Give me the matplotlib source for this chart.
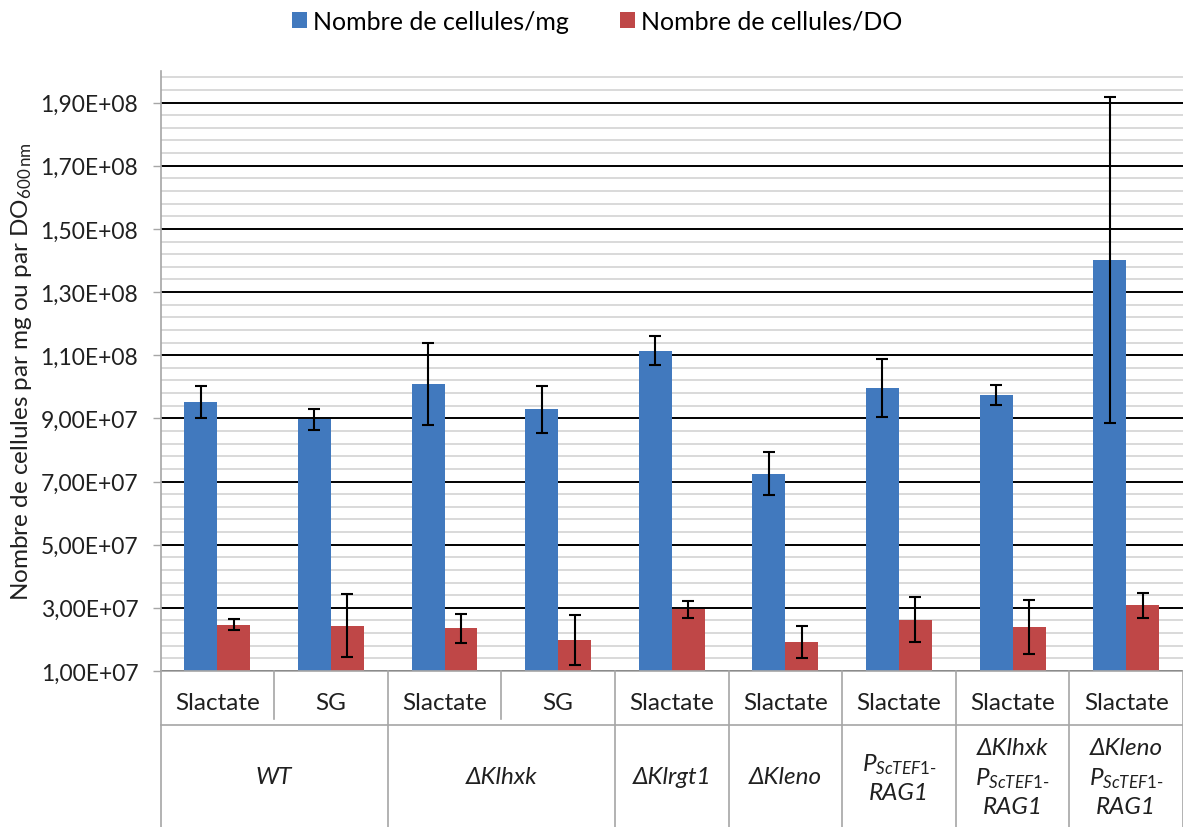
import numpy as np
import matplotlib
matplotlib.use("Agg")
import matplotlib.pyplot as plt
from matplotlib.patches import Patch
from matplotlib.ticker import FixedLocator, FuncFormatter
from matplotlib.transforms import blended_transform_factory

plt.rcParams['font.family'] = ['Lato', 'DejaVu Sans']
plt.rcParams['mathtext.fontset'] = 'custom'
plt.rcParams['mathtext.rm'] = 'Lato'
plt.rcParams['mathtext.it'] = 'Lato:italic'

# data
media = ['Slactate', 'SG', 'Slactate', 'SG', 'Slactate', 'Slactate', 'Slactate', 'Slactate', 'Slactate']
strains = ['WT', 'ΔKlhxk', 'ΔKlrgt1', 'ΔKleno',
           '$P_{ScTEF1\\text{-}}$\nRAG1',
           'ΔKlhxk\n$P_{ScTEF1\\text{-}}$\nRAG1',
           'ΔKleno\n$P_{ScTEF1\\text{-}}$\nRAG1']
strain_span = [2, 2, 1, 1, 1, 1, 1]
per_mg = [9.51e7, 8.97e7, 1.009e8, 9.29e7, 1.114e8, 7.24e7, 9.95e7, 9.74e7, 1.401e8]
per_mg_err = [5.1e6, 3.4e6, 1.3e7, 7.5e6, 4.6e6, 6.8e6, 9.2e6, 3.2e6, 5.17e7]
per_do = [2.47e7, 2.43e7, 2.35e7, 1.98e7, 2.95e7, 1.92e7, 2.63e7, 2.39e7, 3.08e7]
per_do_err = [1.65e6, 1.0e7, 4.5e6, 7.9e6, 2.8e6, 5.2e6, 7.2e6, 8.6e6, 4.0e6]

blue = '#4179BE'
red = '#BF4747'
line_gray = '#a6a6a6'
fs = 16.5      # tick numbers
fs_txt = 17.5  # words

W, H = 1183, 828
fig = plt.figure(figsize=(W / 100, H / 100), dpi=100)
ax = fig.add_axes([160.5 / W, (H - 672) / H, 1 - 160.5 / W, 600 / H])

x = np.arange(len(media))
bw = 0.29
ax.bar(x - bw / 2, per_mg, bw, color=blue, zorder=2)
ax.bar(x + bw / 2, per_do, bw, color=red, zorder=2)
ekw = dict(fmt='none', ecolor='black', elinewidth=1.5, capsize=4, capthick=1.5, zorder=3)
ax.errorbar(x - bw / 2, per_mg, yerr=per_mg_err, **ekw)
ax.errorbar(x + bw / 2, per_do, yerr=per_do_err, **ekw)

ax.set_xlim(-0.5, len(media) - 0.5)
ax.set_ylim(1e7, 2.0e8)
ax.yaxis.set_major_locator(FixedLocator(np.arange(1e7, 1.91e8, 2e7)))
ax.yaxis.set_minor_locator(FixedLocator(np.arange(1e7, 2.01e8, 4e6)))
ax.yaxis.set_major_formatter(FuncFormatter(lambda v, p: f"{v:.2E}".replace('.', ',')))
ax.grid(which='minor', axis='y', color='#d0d0d0', lw=1.1, zorder=0)
ax.grid(which='major', axis='y', color='black', lw=1.4, zorder=1)
ax.set_axisbelow(True)
ax.tick_params(axis='y', which='major', length=6, width=1, color=line_gray,
               pad=10, labelsize=fs, labelcolor='#202020')
ax.tick_params(axis='y', which='minor', length=0)
ax.set_xticks([])
for s in ['top', 'right']:
    ax.spines[s].set_visible(False)
for s in ['left', 'bottom']:
    ax.spines[s].set_color(line_gray)
    ax.spines[s].set_linewidth(1.2)

fig.text(22 / W, 0.5507, 'Nombre de cellules par mg ou par DO$_{\\mathregular{600\\,nm}}$',
         rotation=90, ha='center', va='center', fontsize=fs_txt, color='#202020')

# table below the axis
tr = blended_transform_factory(ax.transData, fig.transFigure)
y_ax = (H - 672) / H
y_row = (H - 726) / H
y_sub_end = (H - 720) / H
ax.plot([-0.5, len(media) - 0.5], [y_row, y_row], transform=tr, color=line_gray,
        lw=1.2, clip_on=False)
for i, m in enumerate(media):
    ax.text(i, (H - 704) / H, m, transform=tr, ha='center', va='center',
            fontsize=fs_txt, color='#202020')
edges = np.concatenate([[0], np.cumsum(strain_span)]) - 0.5
for e in edges:
    ax.plot([e, e], [y_ax, 0], transform=tr, color=line_gray, lw=1.2, clip_on=False)
for i in range(len(media) + 1):
    if i - 0.5 not in edges:
        ax.plot([i - 0.5, i - 0.5], [y_ax, y_sub_end], transform=tr, color=line_gray,
                lw=1.2, clip_on=False)
for k, lab in enumerate(strains):
    cx = (edges[k] + edges[k + 1]) / 2
    ax.text(cx, (H - 778) / H, lab, transform=tr, ha='center', va='center',
            fontsize=fs_txt, style='italic', color='#202020', linespacing=1.35)

handles = [Patch(facecolor=blue, label='Nombre de cellules/mg'),
           Patch(facecolor=red, label='Nombre de cellules/DO')]
fig.legend(handles=handles, loc='center', bbox_to_anchor=(597 / W, 1 - 22 / H), ncol=2,
           frameon=False, fontsize=18, handlelength=0.6, handleheight=0.6,
           handletextpad=0.25, columnspacing=2.05)

fig.savefig('out.png', dpi=100, facecolor='white')
